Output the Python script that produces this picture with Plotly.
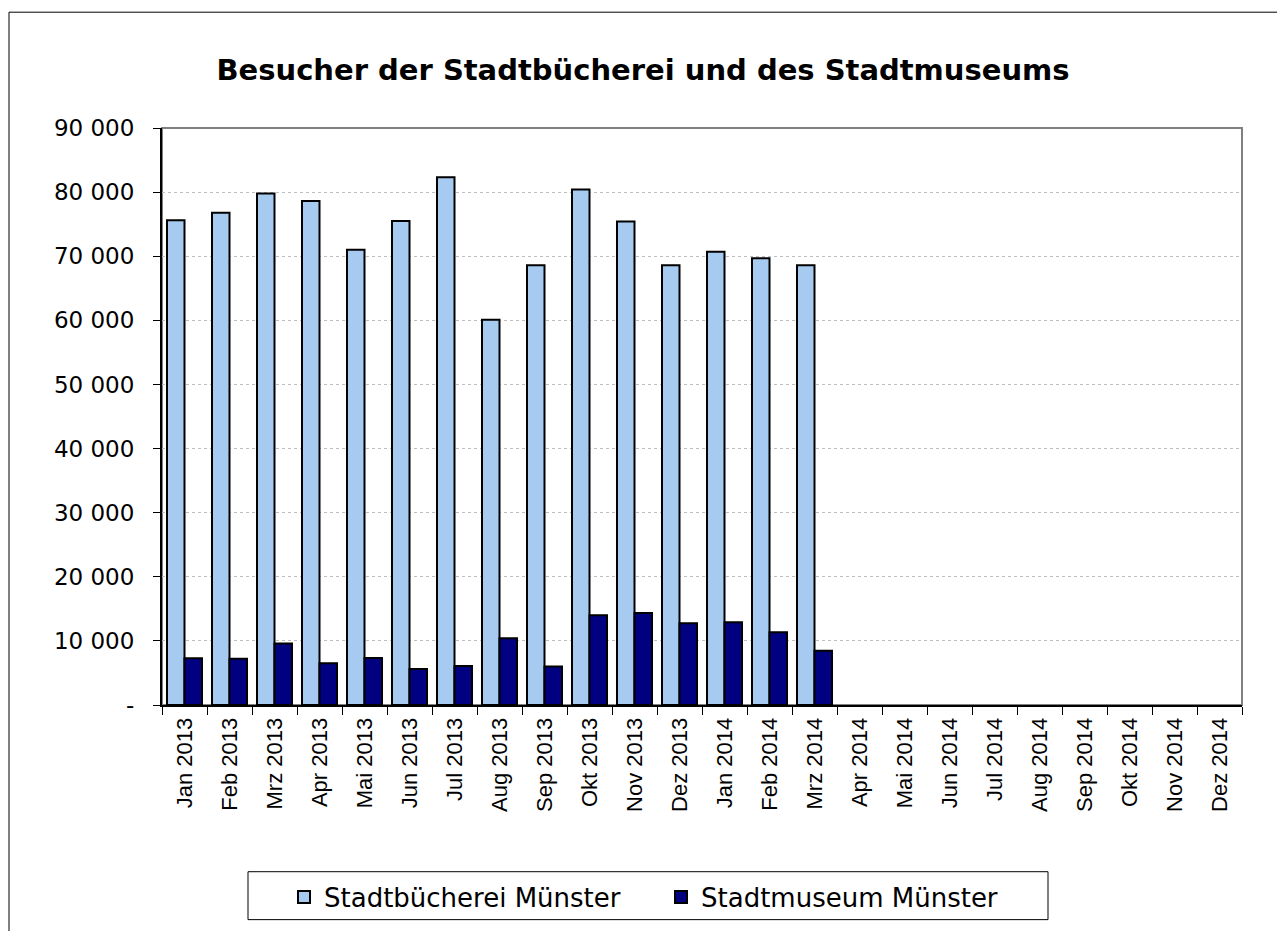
import plotly.graph_objects as go

months = ["Jan 2013", "Feb 2013", "Mrz 2013", "Apr 2013", "Mai 2013", "Jun 2013",
          "Jul 2013", "Aug 2013", "Sep 2013", "Okt 2013", "Nov 2013", "Dez 2013",
          "Jan 2014", "Feb 2014", "Mrz 2014", "Apr 2014", "Mai 2014", "Jun 2014",
          "Jul 2014", "Aug 2014", "Sep 2014", "Okt 2014", "Nov 2014", "Dez 2014"]

buecherei = [75600, 76800, 79800, 78600, 71000, 75500, 82300, 60100, 68600,
             80400, 75400, 68600, 70700, 69700, 68600,
             None, None, None, None, None, None, None, None, None]

museum = [7300, 7200, 9600, 6500, 7350, 5600, 6100, 10400, 6000,
          14000, 14350, 12750, 12900, 11350, 8450,
          None, None, None, None, None, None, None, None, None]

ytick_vals = [0, 10000, 20000, 30000, 40000, 50000, 60000, 70000, 80000, 90000]
ytick_text = ["-", "10 000", "20 000", "30 000", "40 000", "50 000",
              "60 000", "70 000", "80 000", "90 000"]

FONT = "DejaVu Sans, Verdana, sans-serif"
XFONT = "Liberation Sans, Arial, sans-serif"

fig = go.Figure()
fig.add_trace(go.Bar(name="Stadtbücherei Münster", x=months, y=buecherei,
                     marker=dict(color="#A6CAF0", line=dict(color="black", width=2))))
fig.add_trace(go.Bar(name="Stadtmuseum Münster", x=months, y=museum,
                     marker=dict(color="#000080", line=dict(color="black", width=2))))

L, R, T, B = 162, 35, 128, 225
W, H = 1277, 931
pw, ph = W - L - R, H - T - B

def px_x(x):
    return (x - L) / pw

def px_y(y):
    return (H - B - y) / ph

shapes = [
    # outer chart border
    dict(type="rect", xref="paper", yref="paper",
         x0=px_x(9), x1=px_x(1290), y0=px_y(945), y1=px_y(12),
         line=dict(color="black", width=1), layer="below"),
    # plot frame (gray)
    dict(type="rect", xref="paper", yref="paper",
         x0=0, x1=1, y0=0, y1=1,
         line=dict(color="#808080", width=2), layer="below"),
    # legend box
    dict(type="rect", xref="paper", yref="paper",
         x0=px_x(248), x1=px_x(1048), y0=px_y(921), y1=px_y(873),
         line=dict(color="black", width=1), fillcolor="white", layer="below"),
]

fig.update_layout(
    width=W, height=H,
    margin=dict(l=L, r=R, t=T, b=B),
    paper_bgcolor="white", plot_bgcolor="white",
    barmode="group", bargap=0.222, bargroupgap=0,
    title=dict(text="<b>Besucher der Stadtbücherei und des Stadtmuseums</b>",
               x=643 / W, xanchor="center", y=1 - 70 / H, yanchor="middle",
               yref="container", xref="container",
               font=dict(family=FONT, size=29, color="black")),
    font=dict(family=FONT, size=23, color="black"),
    showlegend=True,
    legend=dict(orientation="h", x=px_x(284), xanchor="left",
                y=px_y(897), yanchor="middle",
                bgcolor="rgba(0,0,0,0)", borderwidth=0,
                entrywidth=332, entrywidthmode="pixels",
                font=dict(family=FONT, size=26, color="black")),
    shapes=shapes,
)

fig.update_xaxes(type="category", categoryorder="array", categoryarray=months,
                 tickangle=-90, ticks="outside", ticklen=8, tickcolor="black",
                 tickwidth=1, tickson="boundaries",
                 showline=True, linecolor="black", linewidth=2,
                 showgrid=False, ticklabelstandoff=2,
                 tickfont=dict(family=XFONT, size=22, color="black"))
fig.update_yaxes(range=[0, 90000], tickvals=ytick_vals, ticktext=ytick_text,
                 ticks="outside", ticklen=7, tickcolor="black", tickwidth=1,
                 showline=True, linecolor="black", linewidth=2,
                 showgrid=True, gridcolor="#BEBEBE", griddash="dot", gridwidth=1,
                 zeroline=False, ticklabelstandoff=14,
                 tickfont=dict(family=FONT, size=23, color="black"))

fig.write_html("out.html", config={"displayModeBar": False},
               post_script="document.body.style.margin='0';document.body.style.overflow='hidden';")
